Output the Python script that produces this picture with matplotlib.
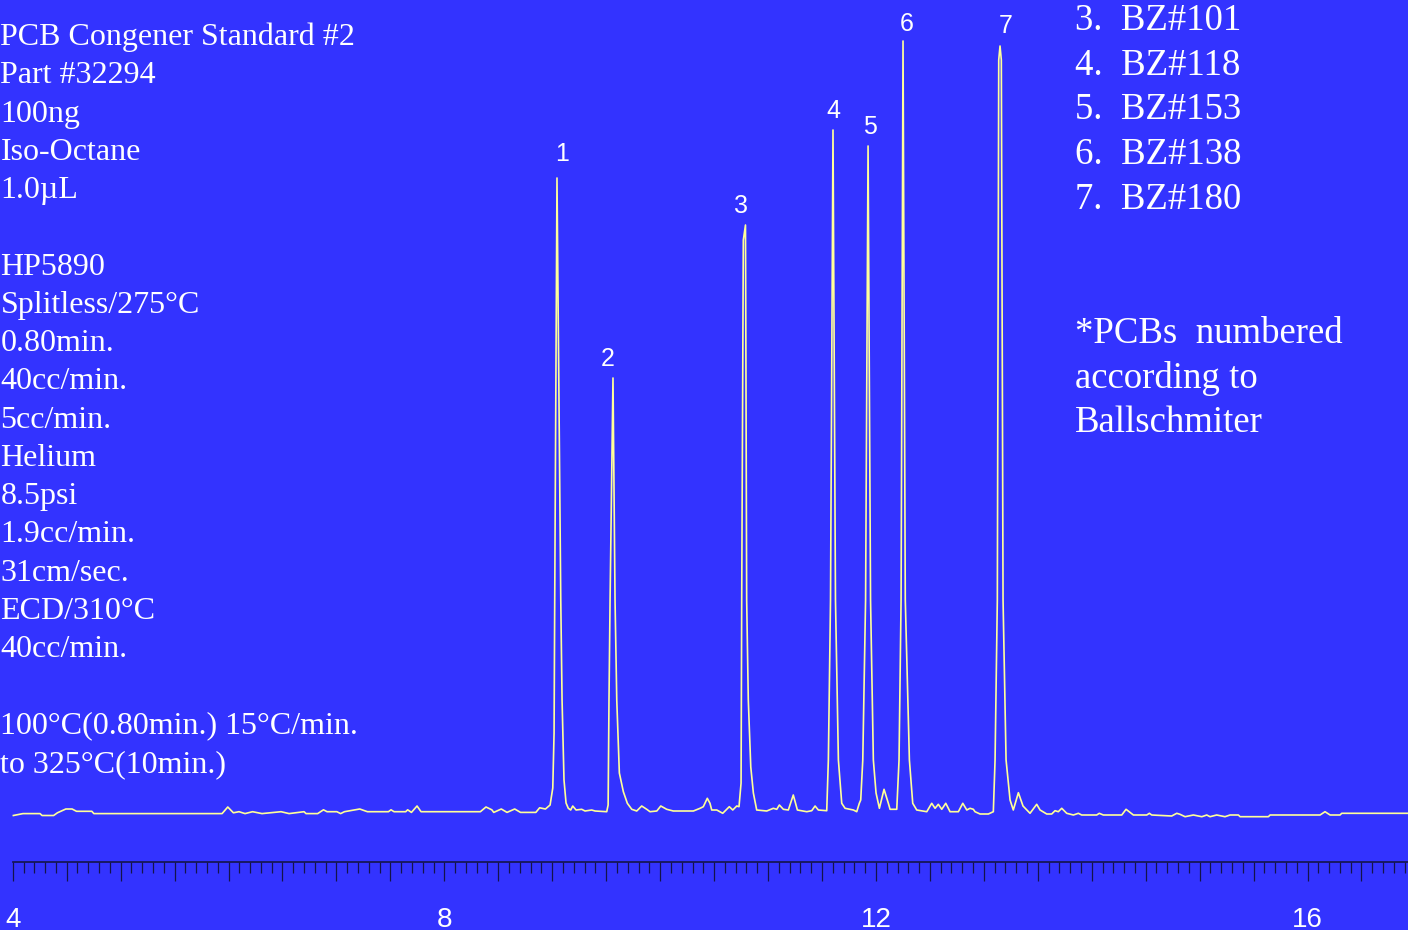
import numpy as np
import matplotlib
matplotlib.use("Agg")
import matplotlib.pyplot as plt
from matplotlib.ticker import FixedLocator, FuncFormatter

# ECD chromatogram, PCB congener standard #2 (digitised trace)
# retention time (min) / detector response (arbitrary units)
time_min = [
    # baseline before the congeners
    4.006, 4.095, 4.253, 4.272, 4.379, 4.414, 4.492, 4.550, 4.591, 4.733,
    4.752, 5.940, 5.993, 6.045, 6.097, 6.153, 6.223, 6.310, 6.487, 6.561,
    6.700, 6.718, 6.826, 6.880, 6.913, 7.004, 7.039, 7.074, 7.216, 7.287,
    7.482, 7.506, 7.534, 7.642, 7.660, 7.695, 7.747, 7.784, 8.334, 8.386,
    8.440, 8.458, 8.528, 8.581, 8.652, 8.706, 8.848, 8.883, 8.937,
    # peak 1
    8.980, 9.005, 9.017, 9.023, 9.044, 9.079, 9.091, 9.109, 9.128, 9.149,
    9.171, 9.190, 9.221, 9.273, 9.304, 9.366, 9.397, 9.505,
    # peak 2
    9.518, 9.526, 9.536, 9.563, 9.582, 9.598, 9.622, 9.659, 9.696, 9.737,
    9.783, 9.829, 9.876, 9.906, 9.969, 10.006, 10.061, 10.122, 10.308, 10.370,
    10.400, 10.437, 10.462, 10.478, 10.525, 10.580, 10.641, 10.673, 10.710, 10.731,
    # peak 3
    10.750, 10.756, 10.771, 10.791, 10.802, 10.817, 10.840, 10.864, 10.895, 10.988,
    11.049, 11.081, 11.105, 11.142, 11.188, 11.234, 11.272, 11.359, 11.405, 11.436,
    11.466, 11.544,
    # peaks 4, 5, 6
    11.559, 11.579, 11.602, 11.625, 11.652, 11.683, 11.714, 11.791, 11.822, 11.846,
    11.859, 11.878, 11.904, 11.927, 11.950, 11.976, 12.001, 12.032, 12.075, 12.115,
    12.131, 12.193, 12.214, 12.233, 12.251, 12.272, 12.310, 12.341, 12.378,
    # peak 7
    12.471, 12.517, 12.548, 12.578, 12.610, 12.647, 12.687, 12.764, 12.805, 12.842,
    12.872, 12.903, 12.918, 12.965, 13.042, 13.088, 13.104, 13.125, 13.138, 13.150,
    13.162, 13.178, 13.206, 13.243, 13.273, 13.320, 13.363, 13.428, 13.490, 13.521,
    13.583,
    # tail
    13.629, 13.660, 13.690, 13.722, 13.768, 13.830, 13.876, 13.907, 14.046, 14.070,
    14.107, 14.278, 14.318, 14.386, 14.510, 14.534, 14.556, 14.741, 14.788, 14.818,
    14.865, 14.942, 15.020, 15.066, 15.096, 15.158, 15.235, 15.282, 15.359, 15.375,
    15.637, 15.653, 16.116, 16.162, 16.209, 16.301, 16.317, 16.931,
]
signal = [
    -0.5, 1.4, 1.4, -0.5, -0.5, 2.2, 6.0, 6.0, 3.7, 3.7,
    1.4, 1.4, 8.0, 2.2, 3.3, 1.4, 3.3, 1.4, 3.3, 1.4,
    3.3, 1.4, 1.4, 5.2, 3.3, 3.3, 1.4, 3.3, 6.0, 3.3,
    3.3, 5.2, 3.3, 3.3, 5.2, 2.6, 9.0, 3.3, 3.3, 8.0,
    5.2, 2.6, 6.0, 2.6, 6.0, 2.6, 2.6, 7.2, 6.0,
    10, 27, 82, 215, 637, 215, 115, 35, 12, 6.7,
    5, 9, 5, 5.7, 4, 5, 4, 3.3,
    10, 115, 215, 437, 215, 115, 42, 23.3, 11.7, 5.7,
    4, 9, 5.7, 3.3, 4, 9, 5.7, 4, 4, 6.7,
    8.3, 16.7, 11.7, 5, 5, 1.7, 8.3, 5, 9, 8.3,
    32, 215, 575, 590, 215, 115, 48, 22, 5, 4,
    6.7, 5.7, 10, 5.7, 5, 20, 5, 3.3, 4.3, 9,
    5, 4.3,
    55, 215, 685, 215, 55, 11.7, 6.7, 5, 3.3, 11.7,
    15, 55, 215, 669, 215, 55, 22, 6.7, 25.7, 11.7,
    5.7, 5.7, 55, 215, 774, 215, 55, 11.7, 5,
    3.3, 11.7, 6.7, 10.7, 5.7, 11.7, 3.3, 3.3, 11.7, 5,
    6.7, 5.7, 3.3, 1, 1, 3.3, 55, 215, 755, 769,
    755, 215, 55, 15, 5, 22.3, 9, 1.7, 10.7, 5,
    1,
    1, 4.3, 3.3, 6.7, 1.7, 0, 1.7, 0, 0, 1.7,
    0, 0, 5.7, 0, 0, 1.7, 0, -1, 1.7, 0.7,
    -1.7, 0, -1.7, 0, -1.7, 0, -1.7, 0, 0, -1.7,
    -1.7, 0, 0, 3.3, 0, 0, 1.7, 1.7,
]

peak_numbers = ["1", "2", "3", "4", "5", "6", "7"]
peak_rt = [9.044, 9.563, 10.791, 11.602, 11.927, 12.251, 13.150]

legend_lines = ["3.  BZ#101", "4.  BZ#118", "5.  BZ#153", "6.  BZ#138", "7.  BZ#180"]
note_lines = ["*PCBs  numbered", "according to", "Ballschmiter"]

conditions = [
    "PCB Congener Standard #2",
    "Part #32294",
    "100ng",
    "Iso-Octane",
    "1.0\u00b5L",
    "",
    "HP5890",
    "Splitless/275\u00b0C",
    "0.80min.",
    "40cc/min.",
    "5cc/min.",
    "Helium",
    "8.5psi",
    "1.9cc/min.",
    "31cm/sec.",
    "ECD/310\u00b0C",
    "40cc/min.",
    "",
    "100\u00b0C(0.80min.) 15\u00b0C/min.",
    "to 325\u00b0C(10min.)",
]

BG = "#3333ff"
TRACE = "#ffff99"
AXIS = "#14144a"
W, H = 1408, 930
T_END = 16.931

fig = plt.figure(figsize=(W / 100, H / 100), dpi=100, facecolor=BG)
ax = fig.add_axes([0, 68 / H, 1, 862 / H])
ax.set_facecolor(BG)

ax.plot(time_min, signal, color=TRACE, lw=1.2, solid_joinstyle="round")

ax.set_xlim(3.882, T_END)
ax.set_ylim(-47, 815)

for s in ("top", "left", "right"):
    ax.spines[s].set_visible(False)
ax.spines["bottom"].set_color(AXIS)
ax.spines["bottom"].set_linewidth(1.2)
ax.spines["bottom"].set_bounds(4, T_END)
ax.set_yticks([])

# time scale: long ticks every 0.5 min, short every 0.1 min, numbers every 4 min
major = np.arange(4, T_END, 0.5)
minor = np.round(np.arange(4, T_END, 0.1), 3)
ax.xaxis.set_major_locator(FixedLocator(major))
ax.xaxis.set_minor_locator(FixedLocator(minor))
ax.xaxis.set_major_formatter(FuncFormatter(
    lambda v, p: f"{v:.0f}" if abs(v / 4 - round(v / 4)) < 1e-6 else ""))
ax.tick_params(axis="x", which="major", direction="out", length=13.5, width=0.9,
               color=AXIS, pad=19, labelsize=20, labelcolor="white")
ax.tick_params(axis="x", which="minor", direction="out", length=8, width=0.9,
               color=AXIS)
for lbl in ax.get_xticklabels():
    lbl.set_fontfamily("Liberation Sans")

# peak numbers above each apex
dx = [3.6, -3.6, -3.0, 0, 1.4, 2.9, 4.3]
dy = [17.3, 13.7, 13.7, 13.7, 13.7, 12.2, 14.4]
for i, (num, rt) in enumerate(zip(peak_numbers, peak_rt)):
    h = np.interp(rt, time_min, signal)
    ax.annotate(num, (rt, h), xytext=(dx[i], dy[i]), textcoords="offset points",
                ha="center", va="center", color="white", fontsize=18,
                family="Liberation Sans")

serif = "Liberation Serif"

# run conditions on the left
for i, line in enumerate(conditions):
    if line:
        fig.text(0.5 / W, 1 - (45 + 38.26 * i) / H, line, color="white",
                 fontsize=23, family=serif, va="baseline", ha="left")

# congener key and footnote on the right
for i, line in enumerate(legend_lines):
    fig.text(1075 / W, 1 - (30 + 44.7 * i) / H, line, color="white",
             fontsize=26.5, family=serif, va="baseline", ha="left")
for i, line in enumerate(note_lines):
    fig.text(1075 / W, 1 - (343 + 44.5 * i) / H, line, color="white",
             fontsize=26.5, family=serif, va="baseline", ha="left")

fig.savefig("out.png", dpi=100, facecolor=BG)
